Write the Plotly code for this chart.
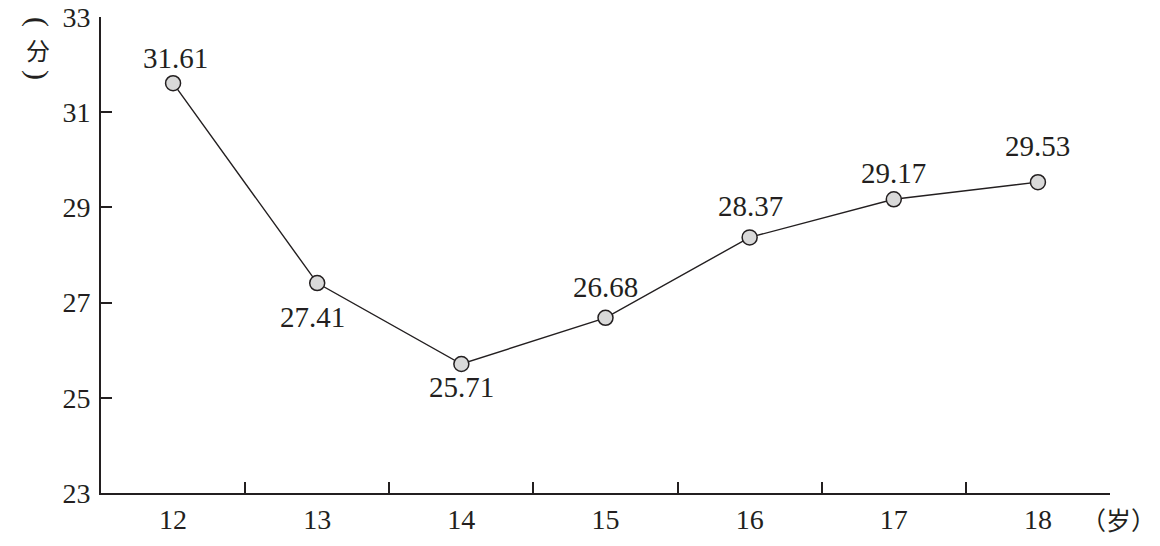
import plotly.graph_objects as go

ages = ["12", "13", "14", "15", "16", "17", "18"]
scores = [31.61, 27.41, 25.71, 26.68, 28.37, 29.17, 29.53]
y_ticks = [23, 25, 27, 29, 31, 33]

# label offsets in pixels (style only)
label_dx = [2, -5, 0, 0, 1, 0, 0]
label_dy = [25, -34, -23, 31, 31, 26, 36]

font_serif = "Liberation Serif, Times New Roman, serif"
ink = "#231f20"

fig = go.Figure()
fig.add_trace(go.Scatter(
    x=ages, y=scores,
    mode="lines+markers",
    line=dict(color=ink, width=1.4),
    marker=dict(size=15, color="#d9d9d9", line=dict(color=ink, width=1.5)),
    cliponaxis=False,
    showlegend=False,
))

for i, (v, dx, dy) in enumerate(zip(scores, label_dx, label_dy)):
    fig.add_annotation(
        x=i, y=v, xref="x", yref="y", text=f"{v:.2f}", showarrow=False,
        xshift=dx, yshift=dy, xanchor="center", yanchor="middle",
        font=dict(family=font_serif, size=29, color=ink),
    )

# page body has 8px default margin -> compensate
fig.update_layout(
    width=1152, height=538,
    margin=dict(l=93, r=50, t=9, b=53, autoexpand=False),
    paper_bgcolor="white", plot_bgcolor="white",
    font=dict(family=font_serif, size=28, color=ink),
)
fig.update_xaxes(
    type="category", range=[-0.5, 6.5], automargin=False,
    showline=True, linecolor=ink, linewidth=2,
    ticks="inside", tickson="boundaries", ticklen=11, tickwidth=2, tickcolor=ink,
    showgrid=False, zeroline=False,
    tickfont=dict(family=font_serif, size=28, color=ink),
    ticklabelstandoff=0, ticklabeloverflow="allow",
)
fig.update_yaxes(
    range=[23, 33], tickvals=y_ticks, automargin=False,
    showline=True, linecolor=ink, linewidth=2,
    ticks="inside", ticklen=11, tickwidth=2, tickcolor=ink,
    showgrid=False, zeroline=False,
    tickfont=dict(family=font_serif, size=28, color=ink),
    ticklabelstandoff=3, ticklabeloverflow="allow",
)

# vertical unit label （分）
cjk = "Noto Sans CJK SC"
fig.add_annotation(xref="paper", yref="paper", x=0, y=1, xshift=-63, yshift=-5,
                   xanchor="center", yanchor="middle", text="(", textangle=90,
                   showarrow=False, font=dict(family=font_serif, size=30, color=ink))
fig.add_annotation(xref="paper", yref="paper", x=0, y=1, xshift=-63, yshift=-32,
                   xanchor="center", yanchor="middle", text="分",
                   showarrow=False, font=dict(family=cjk, size=24, color=ink))
fig.add_annotation(xref="paper", yref="paper", x=0, y=1, xshift=-63, yshift=-58,
                   xanchor="center", yanchor="middle", text=")", textangle=90,
                   showarrow=False, font=dict(family=font_serif, size=30, color=ink))

# x unit label （岁）
fig.add_annotation(xref="paper", yref="paper", x=1, y=0, xshift=8, yshift=-26,
                   xanchor="center", yanchor="middle", text="（岁）",
                   showarrow=False, font=dict(family=cjk, size=25, color=ink))

fig.write_html("out.html")
